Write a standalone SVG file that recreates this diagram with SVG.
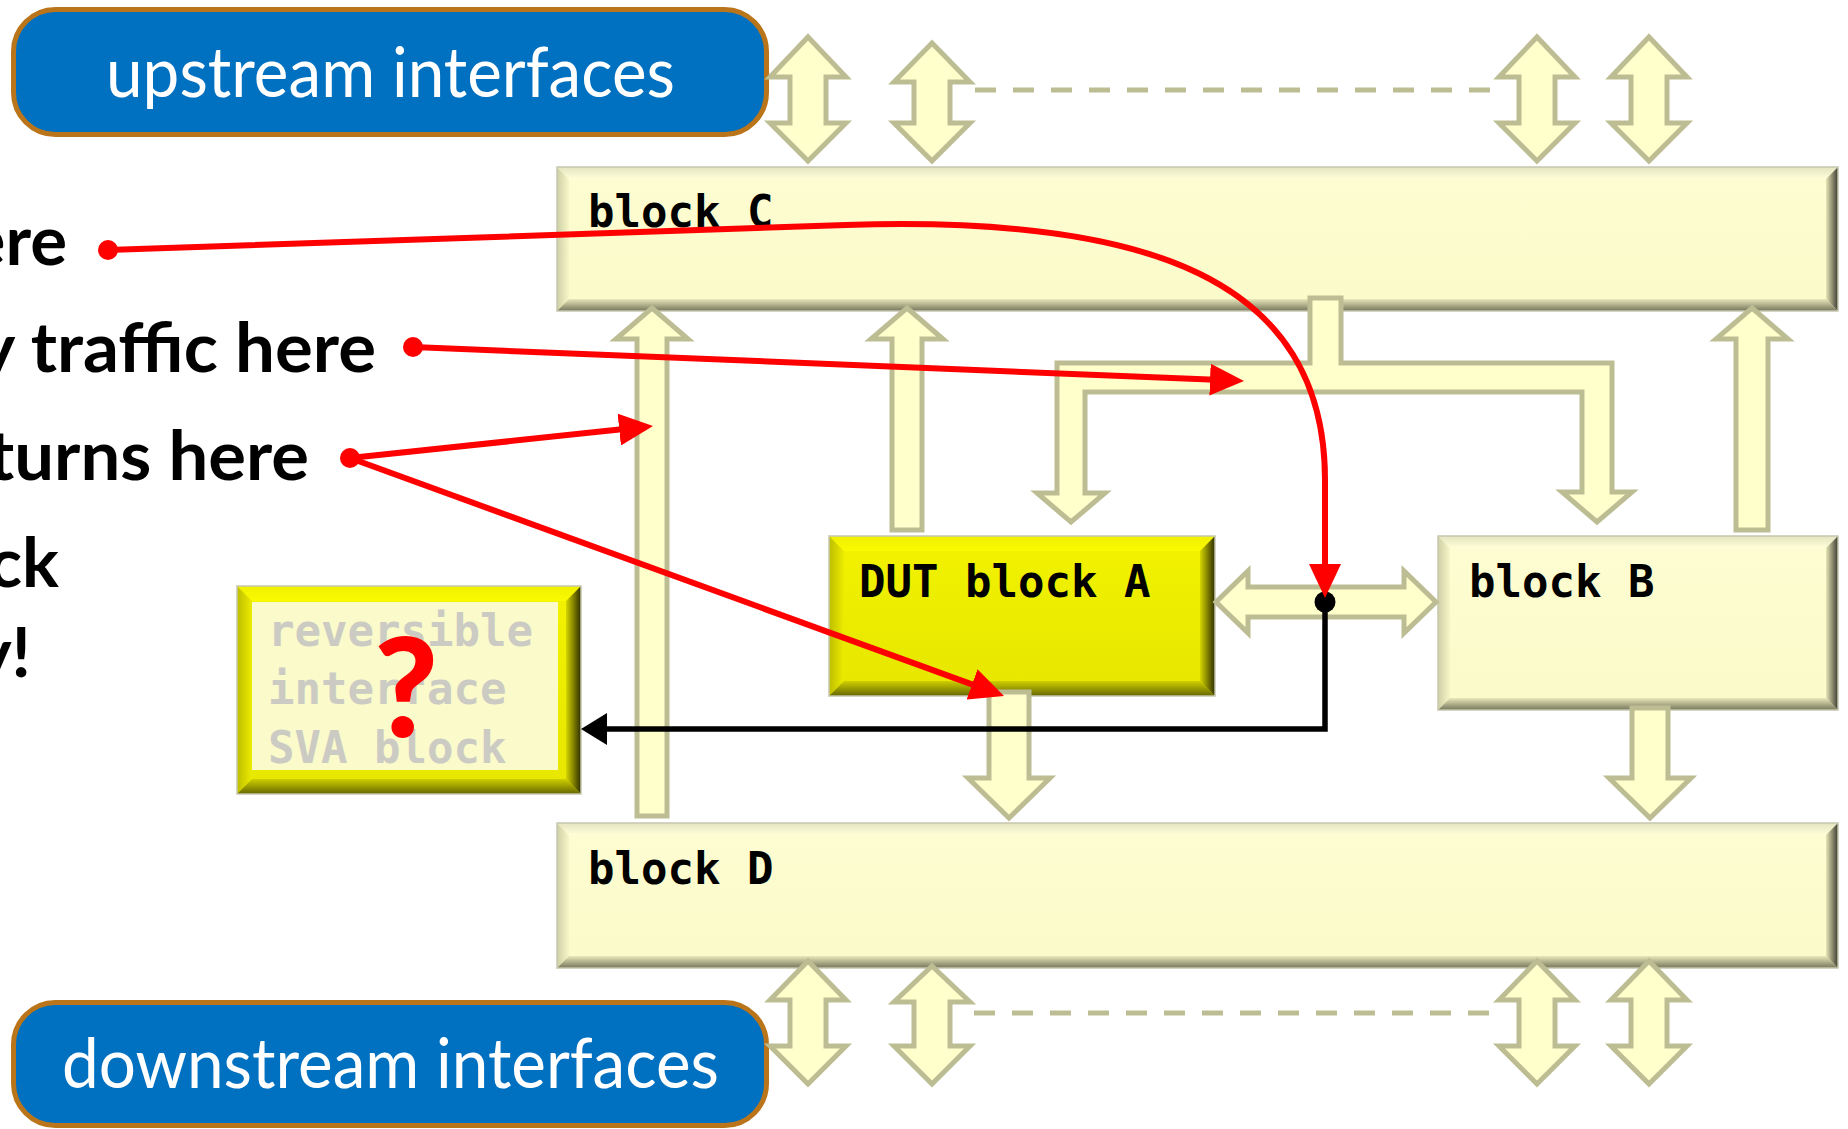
<svg xmlns="http://www.w3.org/2000/svg" width="1848" height="1129" viewBox="0 0 1848 1129">
  <style>
    .pill { fill: #0070C0; stroke: #BA7419; stroke-width: 5; }
    .pill-text { font-family: Lato, "Liberation Sans", sans-serif; font-size: 70px; fill: #FFFFFF; }
    .note { font-family: Lato, "Liberation Sans", sans-serif; font-weight: bold; font-size: 69px; fill: #000000; }
    .mono { font-family: "DejaVu Sans Mono", "Liberation Mono", monospace; font-weight: bold; font-size: 44px; fill: #000000; }
    .mono-ghost { font-family: "DejaVu Sans Mono", "Liberation Mono", monospace; font-weight: bold; font-size: 44px; fill: #CBCBC4; }
    .outline { fill: none; stroke: #C6C6B0; stroke-width: 1.5; }
    .flow { fill: #FFFFCC; stroke: #BDBD94; stroke-width: 5; stroke-linejoin: miter; }
    .dash { fill: none; stroke: #BDBD94; stroke-width: 5; stroke-dasharray: 21 17; }
    .red { fill: none; stroke: #FF0000; stroke-width: 6; }
    .black { fill: none; stroke: #000000; stroke-width: 5.5; }
  </style>
  <defs>
    <!-- pale bevelled block shading -->
    <linearGradient id="pFace" x1="0" y1="0" x2="0" y2="1">
      <stop offset="0" stop-color="#FDFDD2"/>
      <stop offset="1" stop-color="#FAFACA"/>
    </linearGradient>
    <linearGradient id="pTop" x1="0" y1="0" x2="0" y2="1">
      <stop offset="0" stop-color="#E4E4C0"/>
      <stop offset="1" stop-color="#FEFED8"/>
    </linearGradient>
    <linearGradient id="pLeft" x1="0" y1="0" x2="1" y2="0">
      <stop offset="0" stop-color="#CFCFA6"/>
      <stop offset="1" stop-color="#F6F6C8"/>
    </linearGradient>
    <linearGradient id="pBottom" x1="0" y1="0" x2="0" y2="1">
      <stop offset="0" stop-color="#E8E8BA"/>
      <stop offset="1" stop-color="#76765C"/>
    </linearGradient>
    <linearGradient id="pRight" x1="0" y1="0" x2="1" y2="0">
      <stop offset="0" stop-color="#E6E6B8"/>
      <stop offset="1" stop-color="#3C3C30"/>
    </linearGradient>
    <!-- yellow bevelled block shading -->
    <linearGradient id="yFace" x1="0" y1="0" x2="0" y2="1">
      <stop offset="0" stop-color="#F2F200"/>
      <stop offset="1" stop-color="#E6E600"/>
    </linearGradient>
    <linearGradient id="yTop" x1="0" y1="0" x2="0" y2="1">
      <stop offset="0" stop-color="#F0F000"/>
      <stop offset="1" stop-color="#FAFA00"/>
    </linearGradient>
    <linearGradient id="yLeft" x1="0" y1="0" x2="1" y2="0">
      <stop offset="0" stop-color="#BDBD00"/>
      <stop offset="1" stop-color="#ECEC00"/>
    </linearGradient>
    <linearGradient id="yBottom" x1="0" y1="0" x2="0" y2="1">
      <stop offset="0" stop-color="#CFCF00"/>
      <stop offset="1" stop-color="#666600"/>
    </linearGradient>
    <linearGradient id="yRight" x1="0" y1="0" x2="1" y2="0">
      <stop offset="0" stop-color="#D6D600"/>
      <stop offset="1" stop-color="#2E2E00"/>
    </linearGradient>
    <marker id="red-head" markerUnits="userSpaceOnUse" viewBox="0 0 34 32" markerWidth="34" markerHeight="32" refX="24" refY="16" orient="auto">
      <path d="M0,0 L34,16 L0,32 z" fill="#FF0000"/>
    </marker>
    <marker id="black-head" markerUnits="userSpaceOnUse" viewBox="0 0 26 32" markerWidth="26" markerHeight="32" refX="16" refY="16" orient="auto">
      <path d="M0,0 L26,16 L0,32 z" fill="#000000"/>
    </marker>
  </defs>

  <rect width="1848" height="1129" fill="#FFFFFF"/>

  <!-- interface banners -->
  <g id="upstream-interfaces">
    <rect class="pill" x="13.5" y="9.5" width="753" height="125" rx="42" ry="42"/>
    <text class="pill-text" x="106" y="97" textLength="569" lengthAdjust="spacingAndGlyphs">upstream interfaces</text>
  </g>
  <g id="downstream-interfaces">
    <rect class="pill" x="13.5" y="1002.5" width="753" height="123" rx="42" ry="42"/>
    <text class="pill-text" x="62" y="1088" textLength="657" lengthAdjust="spacingAndGlyphs">downstream interfaces</text>
  </g>

  <!-- side notes, running off the left edge -->
  <g id="notes">
    <text class="note" x="67" y="265" text-anchor="end">ere</text>
    <text class="note" x="-22" y="372" textLength="398" lengthAdjust="spacingAndGlyphs">y traffic here</text>
    <text class="note" x="-12" y="480" textLength="321" lengthAdjust="spacingAndGlyphs">turns here</text>
    <text class="note" x="59" y="587" text-anchor="end">ck</text>
    <text class="note" x="31" y="677" text-anchor="end">y!</text>
  </g>

  <!-- block C -->
  <g id="block-c">
    <rect x="557" y="167" width="1281" height="144" fill="url(#pFace)"/>
    <polygon points="557,167 1838,167 1826,179 569,179" fill="url(#pTop)"/>
    <polygon points="557,167 569,179 569,299 557,311" fill="url(#pLeft)"/>
    <polygon points="557,311 569,299 1826,299 1838,311" fill="url(#pBottom)"/>
    <polygon points="1838,167 1838,311 1826,299 1826,179" fill="url(#pRight)"/>
    <rect class="outline" x="557" y="167" width="1281" height="144"/>
    <text class="mono" x="588" y="227">block C</text>
  </g>

  <!-- block D -->
  <g id="block-d">
    <rect x="557" y="823" width="1281" height="145" fill="url(#pFace)"/>
    <polygon points="557,823 1838,823 1826,835 569,835" fill="url(#pTop)"/>
    <polygon points="557,823 569,835 569,956 557,968" fill="url(#pLeft)"/>
    <polygon points="557,968 569,956 1826,956 1838,968" fill="url(#pBottom)"/>
    <polygon points="1838,823 1838,968 1826,956 1826,835" fill="url(#pRight)"/>
    <rect class="outline" x="557" y="823" width="1281" height="145"/>
    <text class="mono" x="588" y="884">block D</text>
  </g>

  <!-- block B -->
  <g id="block-b">
    <rect x="1438" y="536" width="400" height="174" fill="url(#pFace)"/>
    <polygon points="1438,536 1838,536 1826,548 1450,548" fill="url(#pTop)"/>
    <polygon points="1438,536 1450,548 1450,698 1438,710" fill="url(#pLeft)"/>
    <polygon points="1438,710 1450,698 1826,698 1838,710" fill="url(#pBottom)"/>
    <polygon points="1838,536 1838,710 1826,698 1826,548" fill="url(#pRight)"/>
    <rect class="outline" x="1438" y="536" width="400" height="174"/>
    <text class="mono" x="1469" y="597">block B</text>
  </g>

  <!-- DUT block A -->
  <g id="dut-block-a">
    <rect x="829" y="536" width="386" height="160" fill="url(#yFace)"/>
    <polygon points="829,536 1215,536 1200,551 844,551" fill="url(#yTop)"/>
    <polygon points="829,536 844,551 844,681 829,696" fill="url(#yLeft)"/>
    <polygon points="829,696 844,681 1200,681 1215,696" fill="url(#yBottom)"/>
    <polygon points="1215,536 1215,696 1200,681 1200,551" fill="url(#yRight)"/>
    <rect class="outline" x="829" y="536" width="386" height="160"/>
    <text class="mono" x="859" y="597">DUT block A</text>
  </g>

  <!-- reversible interface SVA block -->
  <g id="sva-block">
    <rect x="237" y="586" width="344" height="208" fill="url(#yFace)"/>
    <polygon points="237,586 581,586 566,601 252,601" fill="url(#yTop)"/>
    <polygon points="237,586 252,601 252,779 237,794" fill="url(#yLeft)"/>
    <polygon points="237,794 252,779 566,779 581,794" fill="url(#yBottom)"/>
    <polygon points="581,586 581,794 566,779 566,601" fill="url(#yRight)"/>
    <rect class="outline" x="237" y="586" width="344" height="208"/>
    <rect x="252" y="602" width="306" height="168" fill="#FAFACB"/>
    <text class="mono-ghost" x="268" y="646">reversible</text>
    <text class="mono-ghost" x="268" y="704">interface</text>
    <text class="mono-ghost" x="268" y="763">SVA block</text>
    <text x="406" y="737" text-anchor="middle" font-family="Lato, 'Liberation Sans', sans-serif" font-weight="900" font-size="138" fill="#FF0000">?</text>
  </g>

  <g id="connectors">
    <!-- interface arrows above block C -->
    <polygon class="flow" points="808,37 846,77 826,77 826,123 846,123 808,161 770,123 790,123 790,77 770,77"/>
    <polygon class="flow" points="932,43 970,82 950,82 950,123 970,123 932,161 894,123 914,123 914,82 894,82"/>
    <polygon class="flow" points="1537,37 1575,77 1555,77 1555,123 1575,123 1537,161 1499,123 1519,123 1519,77 1499,77"/>
    <polygon class="flow" points="1649,37 1687,77 1667,77 1667,123 1687,123 1649,161 1611,123 1631,123 1631,77 1611,77"/>
    <line class="dash" x1="975" y1="90" x2="1491" y2="90"/>

    <!-- interface arrows below block D -->
    <polygon class="flow" points="808,961 846,1000 826,1000 826,1046 846,1046 808,1084 770,1046 790,1046 790,1000 770,1000"/>
    <polygon class="flow" points="932,966 970,1002 950,1002 950,1046 970,1046 932,1084 894,1046 914,1046 914,1002 894,1002"/>
    <polygon class="flow" points="1537,961 1575,1000 1555,1000 1555,1046 1575,1046 1537,1084 1499,1046 1519,1046 1519,1000 1499,1000"/>
    <polygon class="flow" points="1649,961 1687,1000 1667,1000 1667,1046 1687,1046 1649,1084 1611,1046 1631,1046 1631,1000 1611,1000"/>
    <line class="dash" x1="974" y1="1013" x2="1491" y2="1013"/>

    <!-- block-to-block flows -->
    <polygon class="flow" points="652,308 688,339 667,339 667,816 637,816 637,339 616,339"/>
    <polygon class="flow" points="907,308 943,339 922,339 922,530 892,530 892,339 871,339"/>
    <polygon class="flow" points="1752,308 1788,339 1768,339 1768,530 1736,530 1736,339 1716,339"/>
    <polygon class="flow" points="1310,298 1341,298 1341,363 1612,363 1612,492 1632,492 1597,522 1562,492 1582,492 1582,392 1085,392 1085,493 1105,493 1071,522 1037,493 1057,493 1057,363 1310,363"/>
    <polygon class="flow" points="989,692 1029,692 1029,778 1050,778 1009,818 968,778 989,778"/>
    <polygon class="flow" points="1632,708 1668,708 1668,778 1691,778 1650,818 1609,778 1632,778"/>
    <polygon class="flow" points="1216,602 1248,571 1248,587 1404,587 1404,571 1436,602 1404,633 1404,617 1248,617 1248,633"/>

    <!-- observation path into the SVA block -->
    <path class="black" d="M1325,602 L1325,729 L591,729" marker-end="url(#black-head)"/>
    <circle cx="1325" cy="602" r="10.5" fill="#000000"/>

    <!-- callout pointers -->
    <path class="red" d="M108,250 L846,225 C1150,215 1325,280 1325,480 L1325,588" marker-end="url(#red-head)"/>
    <path class="red" d="M413,347 L1234,380.6" marker-end="url(#red-head)"/>
    <path class="red" d="M350,458 L643.1,427.1" marker-end="url(#red-head)"/>
    <path class="red" d="M350,458 L994.6,692.6" marker-end="url(#red-head)"/>
    <circle cx="108" cy="250" r="10" fill="#FF0000"/>
    <circle cx="413" cy="347" r="10" fill="#FF0000"/>
    <circle cx="350" cy="458" r="10" fill="#FF0000"/>
  </g>
</svg>
